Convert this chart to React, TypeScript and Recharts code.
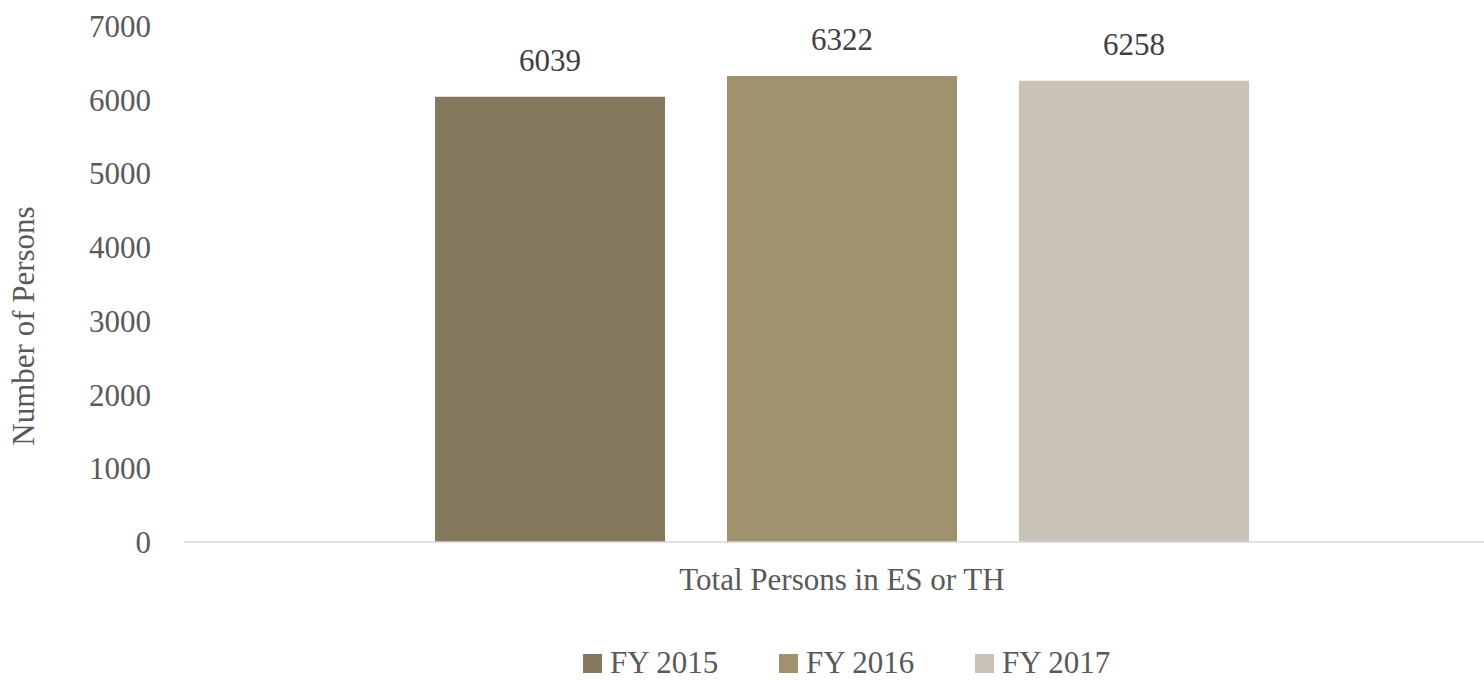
import React from "react";
import { BarChart, Bar, XAxis, YAxis, Legend, LabelList } from "recharts";

const categories = ["Total Persons in ES or TH"];
const fy2015 = [6039];
const fy2016 = [6322];
const fy2017 = [6258];
const yTicks = [0, 1000, 2000, 3000, 4000, 5000, 6000, 7000];
const seriesNames = ["FY 2015", "FY 2016", "FY 2017"];
const seriesColors = ["#83785B", "#A0926F", "#C9C2B6"];

const data = categories.map((c, i) => ({
  name: c,
  s0: fy2015[i],
  s1: fy2016[i],
  s2: fy2017[i],
}));

const FONT = "Liberation Serif";
const TEXT = "#595959";

const LegendContent = (props: any) => {
  const payload = props.payload || [];
  return (
    <div
      style={{
        height: 68,
        boxSizing: "border-box",
        paddingTop: 34,
        paddingLeft: 583,
        display: "flex",
        alignItems: "center",
        fontFamily: FONT,
        fontSize: 31,
        color: TEXT,
      }}
    >
      {payload.map((p: any, i: number) => (
        <div key={i} style={{ width: 196, display: "flex", alignItems: "center" }}>
          <span style={{ width: 19, height: 19, background: p.color, display: "inline-block", marginRight: 8 }} />
          <span style={{ lineHeight: "34px" }}>{p.value}</span>
        </div>
      ))}
    </div>
  );
};

export default function App() {
  return (
    <div style={{ position: "absolute", left: 0, top: 0, width: 1484, height: 680, overflow: "hidden", background: "#fff" }}>
      <BarChart
        width={1500}
        height={680}
        data={data}
        margin={{ top: 26, right: 0, left: 0, bottom: 0 }}
        barSize={230}
        barGap={62}
        style={{ fontFamily: FONT }}
      >
        <XAxis
          dataKey="name"
          tickLine={false}
          tickSize={0}
          tickMargin={26}
          height={70}
          axisLine={{ stroke: "#D9D9D9", strokeWidth: 1.5 }}
          tick={{ fill: TEXT, fontSize: 31, fontFamily: FONT }}
        />
        <YAxis
          width={184}
          domain={[0, 7000]}
          ticks={yTicks}
          interval={0}
          axisLine={false}
          tickLine={false}
          tickSize={0}
          tickMargin={33}
          tick={{ fill: TEXT, fontSize: 31, fontFamily: FONT }}
          label={{
            content: (p: any) => (
              <text
                x={34}
                y={326}
                transform="rotate(-90, 34, 326)"
                textAnchor="middle"
                fill={TEXT}
                fontSize={31}
                fontFamily={FONT}
              >
                Number of Persons
              </text>
            ),
          }}
        />
        <Legend verticalAlign="bottom" content={<LegendContent />} wrapperStyle={{ left: 0, width: 1500 }} />
        {["s0", "s1", "s2"].map((k, i) => (
          <Bar key={k} dataKey={k} name={seriesNames[i]} fill={seriesColors[i]} isAnimationActive={false}>
            <LabelList
              dataKey={k}
              position="top"
              offset={26}
              fill="#404040"
              fontSize={31}
              fontFamily={FONT}
            />
          </Bar>
        ))}
      </BarChart>
    </div>
  );
}
